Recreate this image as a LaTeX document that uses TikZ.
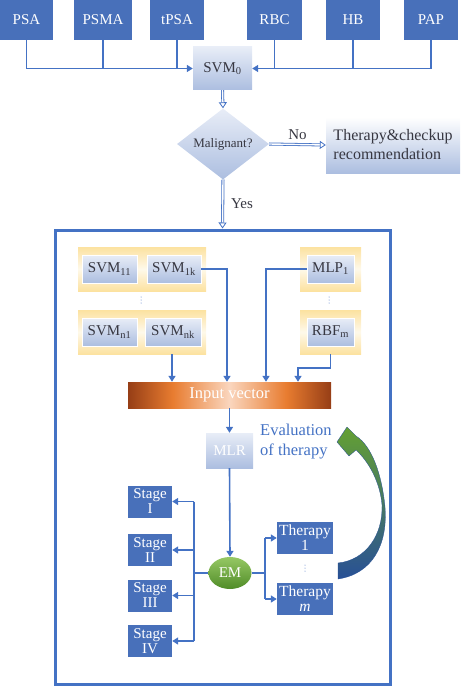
\documentclass[tikz,border=0pt]{standalone}
\usepackage{fontspec}
\setmainfont{Liberation Serif}
\usetikzlibrary{shapes.geometric,arrows.meta}
\definecolor{boxblue}{RGB}{72,112,186}
\definecolor{lineblue}{RGB}{68,114,196}
\definecolor{txtgray}{RGB}{55,55,65}
\definecolor{gtop}{RGB}{232,237,247}
\definecolor{gbot}{RGB}{172,190,224}
\definecolor{pyel}{RGB}{252,226,160}
\definecolor{ivdark}{RGB}{150,62,22}
\definecolor{ivorange}{RGB}{232,124,48}
\definecolor{ivlight}{RGB}{250,214,190}
\definecolor{emlight}{RGB}{150,200,100}
\definecolor{emdark}{RGB}{80,140,40}
\definecolor{evgreen}{RGB}{100,160,50}
\definecolor{evblue}{RGB}{40,80,150}
\pgfdeclarehorizontalshading{ivshade}{100bp}{color(0bp)=(ivdark); color(25bp)=(ivdark); color(36bp)=(ivorange); color(50bp)=(ivlight); color(64bp)=(ivorange); color(75bp)=(ivdark); color(100bp)=(ivdark)}

\begin{document}
\begin{tikzpicture}[x=1pt,y=-1pt,
    every node/.style={font=\fontsize{15}{16}\selectfont,inner sep=0pt},
    inbox/.style={fill=boxblue,text=white,align=center},
    gbox/.style={top color=gtop,bottom color=gbot,text=txtgray,align=center},
    panel/.style={top color=pyel,bottom color=pyel,middle color=pyel!22,minimum height=44pt},
    arr/.style={draw=lineblue,line width=1.6pt,-{Triangle[length=6pt,width=7pt]}},
    line/.style={draw=lineblue,line width=1.6pt},
    dblarr/.style={draw=lineblue,double=white,double distance=1.4pt,line width=0.8pt,-{Triangle[open,length=6pt,width=8pt]}}]
    \useasboundingbox (0,0) rectangle (465,687);

    \foreach \n/\t/\x/\w in {psa/PSA/26.5/53,psma/PSMA/103/58,tpsa/tPSA/177/54,rbc/RBC/274.5/55,hb/HB/353/54,pap/PAP/431/54}{
        \node[inbox,minimum width=\w pt,minimum height=40pt] (\n) at (\x,20) {\t};
    }
    \node[gbox,minimum width=59pt,minimum height=43pt] (svm0) at (222.5,68.5) {SVM\textsubscript{0}};
    \draw[arr] (psa.south) |- (svm0.west);
    \draw[arr] (pap.south) |- (svm0.east);
    \foreach \n in {psma,tpsa,rbc,hb}{
        \draw[line] (\n.south) -- (\n.south |- svm0.west);
    }

    \node[diamond,gbox,minimum width=92pt,minimum height=55pt,font=\fontsize{13}{14}\selectfont] (mal) at (223,144) {Malignant?};
    \draw[dblarr] (svm0.south) -- (mal.north);
    \node[gbox,top color=white,minimum width=134pt,minimum height=56pt,align=left,font=\fontsize{16}{19}\selectfont] (rec) at (393,145) {Therapy\&checkup\\recommendation};
    \draw[dblarr] (mal.east) -- (rec.west) node[midway,above=4pt,text=txtgray] (no) {No};

    \node[draw=lineblue,line width=3pt,minimum width=335pt,minimum height=454pt] (frame) at (222.5,457) {};
    \draw[dblarr] (mal.south) -- (frame.north) node[midway,right=8pt,text=txtgray] (yes) {Yes};

    \node[panel,minimum width=128pt] (grp1) at (142,269) {};
    \node[panel,minimum width=128pt] (grp2) at (142,332) {};
    \node[panel,minimum width=61pt] (grp3) at (330.5,269) {};
    \node[panel,minimum width=61pt] (grp4) at (330.5,332) {};
    \node[gbox,draw=white,minimum width=55pt,minimum height=28pt] (svm11) at (109.5,269) {SVM\textsubscript{11}};
    \node[gbox,draw=white,minimum width=54pt,minimum height=28pt] (svm1k) at (174,269) {SVM\textsubscript{1k}};
    \node[gbox,draw=white,minimum width=55pt,minimum height=28pt] (svmn1) at (109.5,332) {SVM\textsubscript{n1}};
    \node[gbox,draw=white,minimum width=56pt,minimum height=28pt] (svmnk) at (173,332) {SVM\textsubscript{nk}};
    \node[gbox,draw=white,minimum width=47pt,minimum height=28pt] (mlp1) at (330.5,269) {MLP\textsubscript{1}};
    \node[gbox,draw=white,minimum width=47pt,minimum height=28pt] (rbfm) at (330.5,332) {RBF\textsubscript{m}};
    \foreach \x/\y in {141/300,329/300,305/568}{
        \foreach \d in {-3,0,3}
            \fill[lineblue] (\x,\y+\d) circle (0.5);
    }

    \node[shade,shading=ivshade,minimum width=203pt,minimum height=26pt,text=white,font=\fontsize{16.5}{18}\selectfont] (inv) at (229.5,395) {Input vector};
    \draw[arr] (svm1k.east) -| (227,0 |- inv.north);
    \draw[arr] (mlp1.west) -| (266,0 |- inv.north);
    \draw[arr] (172,0 |- grp2.south) -- (172,0 |- inv.north);
    \draw[arr] (grp4.south) -- ++(0,14) -| (298,0 |- inv.north);

    \node[gbox,text=white,minimum width=47pt,minimum height=35pt] (mlr) at (229.5,450.5) {MLR};
    \draw[arr] (inv.south -| mlr.north) -- (mlr.north);
    \node[text=lineblue,align=left,anchor=west,font=\fontsize{16.5}{20}\selectfont] (evl) at (260,442) {Evaluation\\of therapy};

    \node[ellipse,top color=emlight,bottom color=emdark,minimum width=43pt,minimum height=32pt,text=white] (em) at (230,573) {EM};
    \draw[arr] (mlr.south) -- (em.north);

    \foreach \n/\t/\y in {st1/I/501.5,st2/II/550,st3/III/595.5,st4/IV/641}{
        \node[inbox,minimum width=44pt,minimum height=32pt,font=\fontsize{15}{15}\selectfont] (\n) at (150,\y) {Stage\\\t};
    }
    \coordinate (lt) at (194,573);
    \draw[line] (em.west) -- (lt);
    \draw[line] (lt |- st1.east) -- (lt |- st4.east);
    \foreach \n in {st1,st2,st3,st4}{
        \draw[arr] (lt |- \n.east) -- (\n.east);
    }

    \node[inbox,minimum width=56pt,minimum height=32pt,font=\fontsize{15.5}{15}\selectfont] (th1) at (305,538) {Therapy\\1};
    \node[inbox,minimum width=56pt,minimum height=32pt,font=\fontsize{15.5}{15}\selectfont] (thm) at (305,599) {Therapy\\\textit{m}};
    \coordinate (rt) at (265,573);
    \draw[line] (em.east) -- (rt);
    \draw[line] (rt |- th1.west) -- (rt |- thm.west);
    \foreach \n in {th1,thm}{
        \draw[arr] (rt |- \n.west) -- (\n.west);
    }

    \shade[top color=evgreen,bottom color=evblue,draw=evblue,line width=0.3pt]
        (338,579) .. controls (372,574) and (388,545) .. (385,507)
        .. controls (382,475) and (372,446) .. (356,436)
        -- (347,427) -- (337,442) -- (349,456) -- (356,450)
        .. controls (369,462) and (380,482) .. (382,505)
        .. controls (383,535) and (366,560) .. (338,563) -- cycle;
\end{tikzpicture}
\end{document}
